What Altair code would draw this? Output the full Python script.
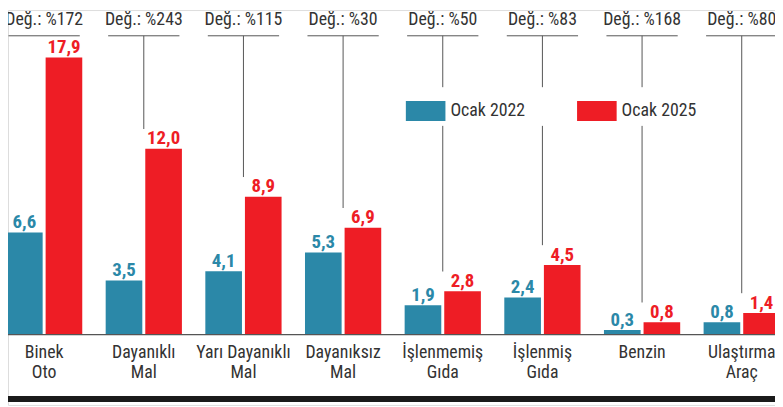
import altair as alt
import pandas as pd

categories = ["Binek Oto", "Dayanıklı Mal", "Yarı Dayanıklı Mal", "Dayanıksız Mal",
              "İşlenmemiş Gıda", "İşlenmiş Gıda", "Benzin", "Ulaştırma Araç"]
cat_labels = ["Binek\nOto", "Dayanıklı\nMal", "Yarı Dayanıklı\nMal", "Dayanıksız\nMal",
              "İşlenmemiş\nGıda", "İşlenmiş\nGıda", "Benzin", "Ulaştırma\nAraç"]
jan2022 = [6.6, 3.5, 4.1, 5.3, 1.9, 2.4, 0.3, 0.8]
jan2025 = [17.9, 12.0, 8.9, 6.9, 2.8, 4.5, 0.8, 1.4]
change = ["%172", "%243", "%115", "%30", "%50", "%83", "%168", "%80"]
series = ["Ocak 2022", "Ocak 2025"]
colors = ["#2B88A8", "#EE1D25"]

FONT = "Roboto Condensed, Liberation Sans Narrow, Arial Narrow, DejaVu Sans Condensed, sans-serif"

wide = pd.DataFrame({"cat": categories, "lab": cat_labels, "a": jan2022,
                     "b": jan2025, "chg": change})
long = pd.DataFrame({
    "cat": categories * 2,
    "series": [series[0]] * len(categories) + [series[1]] * len(categories),
    "value": jan2022 + jan2025,
})

W, H = 775, 399
xscale = alt.Scale(domain=categories, range=[-2, 779.9], paddingInner=0.235, paddingOuter=0)
yscale = alt.Scale(domain=[0, 18], range=[328, 46.3], nice=False, zero=False)
X = alt.X("cat:N", scale=xscale, axis=None, sort=categories)
XO = alt.XOffset("series:N", scale=alt.Scale(domain=series, paddingInner=0.075, paddingOuter=0))

base_w = alt.Chart(wide)
base_l = alt.Chart(long)

hline = base_w.mark_rule(color="#555", strokeWidth=1, xOffset=-36, x2Offset=36).encode(
    x=X, x2=alt.X2("cat"), y=alt.value(26))

vline = base_w.transform_filter("datum.b < 17").mark_rule(
    color="#555", strokeWidth=1, yOffset=-20).encode(
    x=X, y=alt.Y("b:Q", scale=yscale, axis=None), y2=alt.value(26))

header = base_w.transform_calculate(t="'Değ.: ' + datum.chg").mark_text(
    font=FONT, fontSize=18, color="#333", baseline="alphabetic").encode(
    x=X, y=alt.value(15), text="t:N")

bars = base_l.mark_bar().encode(
    x=X, xOffset=XO,
    y=alt.Y("value:Q", scale=yscale, axis=None),
    color=alt.Color("series:N", scale=alt.Scale(domain=series, range=colors),
                    legend=alt.Legend(orient="none", legendX=398, legendY=78,
                                      direction="horizontal", title=None,
                                      symbolType="M-1,-0.5H1V0.5H-1Z", symbolSize=1600,
                                      symbolStrokeWidth=0, symbolOpacity=1,
                                      labelFont=FONT, labelFontSize=18, labelColor="#333",
                                      labelOffset=5, columnPadding=52, padding=4,
                                      fillColor="white", strokeColor="white")),
)

vlabels = base_l.transform_calculate(
    t="replace(format(datum.value, '.1f'), '.', ',')").mark_text(
    font=FONT, fontSize=19, fontWeight="bold", baseline="alphabetic", dy=-4.5).encode(
    x=X, xOffset=XO, y=alt.Y("value:Q", scale=yscale),
    text="t:N",
    color=alt.Color("series:N", scale=alt.Scale(domain=series, range=colors), legend=None))

clabels = base_w.mark_text(font=FONT, fontSize=18, color="#333", baseline="alphabetic",
                           lineBreak="\n", lineHeight=20).encode(
    x=X, y=alt.value(352), text="lab:N")

baseline = alt.Chart(pd.DataFrame({"z": [0]})).mark_rule(color="#555", strokeWidth=1.3).encode(
    y=alt.Y("z:Q", scale=yscale), x=alt.value(-3), x2=alt.value(W))

bottom = alt.Chart(pd.DataFrame({"z": [0]})).mark_rule(color="#1a1a1a", strokeWidth=6).encode(
    y=alt.value(393), x=alt.value(-3), x2=alt.value(W))

chart = alt.layer(hline, vline, header, bars, baseline, vlabels, clabels, bottom).properties(
    width=W, height=H, padding=0,
    autosize=alt.AutoSizeParams(type="none"),
).configure_view(stroke=None).configure(background="white")

chart.save("out.html", embed_options={"renderer": "svg", "actions": False})
